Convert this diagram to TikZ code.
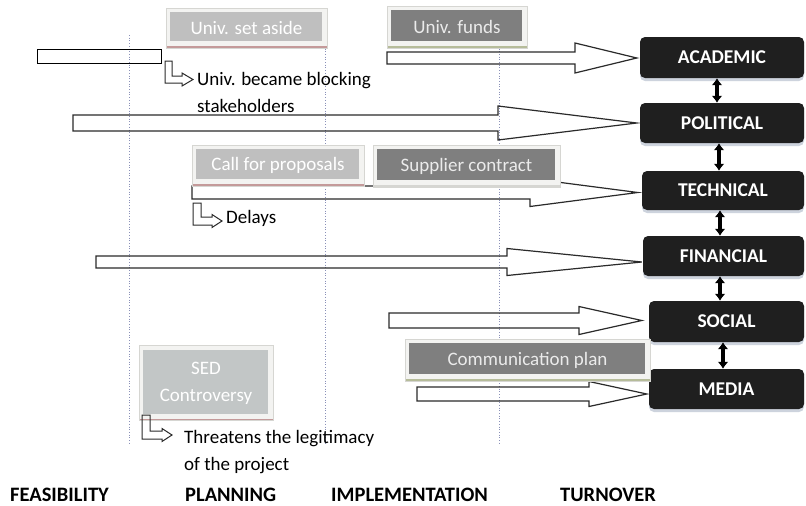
\documentclass[tikz,border=0pt]{standalone}
\usepackage{fontspec}
\setmainfont{Carlito}
\usetikzlibrary{calc,arrows.meta,shadows}
\definecolor{boxblack}{HTML}{1F1F1F}
\definecolor{rimblue}{HTML}{CDD3DD}
\definecolor{lightfill}{HTML}{BFBFBF}
\definecolor{sedfill}{HTML}{C2C6C6}
\definecolor{darkfill}{HTML}{7F7F7F}
\definecolor{framefill}{HTML}{F3F3F1}
\definecolor{framedraw}{HTML}{D6D6D2}
\definecolor{pinkline}{HTML}{C49A9A}
\definecolor{greenline}{HTML}{B6BC9A}
\definecolor{dotblue}{HTML}{8A90B8}
\definecolor{arrowgray}{HTML}{2A2A2A}
\tikzset{
  blackbox/.style={rounded corners=5pt, fill=boxblack, text=white, inner sep=0pt,
    font=\fontsize{19.5}{21}\selectfont\bfseries,
    drop shadow={shadow xshift=0pt, shadow yshift=-3pt, fill=rimblue, opacity=1}},
  grayframe/.style n args={3}{fill=framefill, draw=framedraw, line width=0.6pt, inner sep=0pt,
    text=#2, font=\fontsize{19}{27}\selectfont, align=center,
    path picture={
      \fill[#1] ([shift={(4pt,-4pt)}]path picture bounding box.north west)
        rectangle ([shift={(-5pt,7pt)}]path picture bounding box.south east);
      \fill[#3] ([shift={(0pt,0pt)}]path picture bounding box.south west)
        rectangle ([shift={(0pt,2pt)}]path picture bounding box.south east);
    }},
  blockarrow/.style={draw=arrowgray, line width=1.2pt, line join=miter},
  bentshape/.style={draw=arrowgray, line width=1pt, line join=miter},
  dblarrow/.style={line width=3.4pt, {Latex[length=7pt,width=11pt]}-{Latex[length=7pt,width=11pt]}},
  phase/.style={font=\fontsize{20.5}{22}\selectfont\bfseries, anchor=base west, inner sep=0pt},
  note/.style={font=\fontsize{19}{27}\selectfont, anchor=base west, align=left, inner sep=0pt},
  stageline/.style={draw=dotblue, dotted, line width=0.7pt},
}
\newcommand\blkarrow[6]{%
  \draw[blockarrow] let \p1=(#1), \p2=(#2.west) in
    (\x1,\y1+#4pt) -- (#3pt,\y1+#4pt) -- (#3pt,\y1+#5pt) -- (\x2+#6pt,\y1)
    -- (#3pt,\y1-#5pt) -- (#3pt,\y1-#4pt) -- (\x1,\y1-#4pt) -- cycle;}
\newcommand\bentarrow[6]{%
  \draw[bentshape] (#1,#2) -- ({#1+#3},#2) -- ({#1+#3},{#2+#4-#3})
    -- ({#1+#5},{#2+#4-#3}) -- ({#1+#5},{#2+#4-#3/2-6.5}) -- ({#1+#5+#6},{#2+#4-#3/2})
    -- ({#1+#5},{#2+#4-#3/2+6.5}) -- ({#1+#5},{#2+#4}) -- (#1,{#2+#4}) -- cycle;}
\begin{document}
\begin{tikzpicture}[x=1pt,y=-1pt]
\useasboundingbox (0,0) rectangle (806,506);
\fill[white] (0,0) rectangle (806,506);

% phase separators
\draw[stageline] (129,35) -- (129,445);
\draw[stageline] (325,35) -- (325,445);
\draw[stageline] (499,35) -- (499,445);

% arrow tails
\coordinate (tacad) at (387,58);
\coordinate (tpol) at (73,123);
\coordinate (ttech) at (192,192.5);
\coordinate (tfin) at (96,262);
\coordinate (tsoc) at (389,320.5);
\coordinate (tmed) at (417,394);

% category boxes
\node[blackbox, minimum width=164pt, minimum height=41pt] (academic) at (722,57.5) {ACADEMIC};
\node[blackbox, minimum width=164pt, minimum height=40pt] (political) at (722,123) {POLITICAL};
\node[blackbox, minimum width=162pt, minimum height=39pt] (technical) at (723,190.5) {TECHNICAL};
\node[blackbox, minimum width=161pt, minimum height=40pt] (financial) at (723.5,256) {FINANCIAL};
\node[blackbox, minimum width=155pt, minimum height=41pt] (social) at (726.5,321.5) {SOCIAL};
\node[blackbox, minimum width=155pt, minimum height=40pt] (media) at (726.5,389) {MEDIA};

% links between categories
\draw[dblarrow] ([xshift=-5pt]academic.south) -- ([xshift=-5pt]academic.south |- political.north);
\draw[dblarrow] ([xshift=-3pt]political.south) -- ([xshift=-3pt]political.south |- technical.north);
\draw[dblarrow] ([xshift=-3pt]technical.south) -- ([xshift=-3pt]technical.south |- financial.north);
\draw[dblarrow] ([xshift=-3.5pt]financial.south) -- ([xshift=-3.5pt]financial.south |- social.north);
\draw[dblarrow] ([xshift=-3.5pt]social.south) -- ([xshift=-3.5pt]social.south |- media.north);

% block arrows
\blkarrow{tacad}{academic}{575}{6}{15}{-3}
\blkarrow{tpol}{political}{498}{8}{17}{-3}
\blkarrow{ttech}{technical}{530}{6.5}{14}{-4}
\blkarrow{tfin}{financial}{507}{6}{13.5}{-1}
\blkarrow{tsoc}{social}{579}{7.5}{14}{-7}
\blkarrow{tmed}{media}{589}{7}{12.5}{-2}

% start bar
\node[draw=black, line width=1.8pt, minimum width=124pt, minimum height=14pt, inner sep=0pt] (startbar) at (99.5,56.5) {};

% event boxes
\node[grayframe={lightfill}{white}{pinkline}, minimum width=161pt, minimum height=40pt] (setaside) at (246.5,28) {Univ. set aside};
\node[grayframe={darkfill}{white!92!black}{greenline}, minimum width=140pt, minimum height=42pt] (funds) at (457,27) {Univ. funds};
\node[grayframe={lightfill}{white}{pinkline}, minimum width=172pt, minimum height=41pt] (call) at (278,165.5) {Call for proposals};
\node[grayframe={darkfill}{white!92!black}{framedraw}, minimum width=187pt, minimum height=42pt] (supplier) at (466.5,166) {Supplier contract};
\node[grayframe={sedfill}{white}{pinkline}, minimum width=134pt, minimum height=75pt] (sed) at (206,383) {SED\\Controversy};
\node[grayframe={darkfill}{white!92!black}{greenline}, minimum width=245pt, minimum height=42pt] (comm) at (527.5,360) {Communication plan};

% consequences
\bentarrow{165}{61}{7}{22}{17}{11}
\node[note] (blocking) at (197,112) {Univ. became blocking\\stakeholders};
\bentarrow{193}{203}{8}{22}{19}{10}
\node[note] (delays) at (226,223) {Delays};
\bentarrow{142}{415}{8}{24}{20}{10}
\node[note] (threat) at (184,470) {Threatens the legitimacy\\of the project};

% phases
\node[phase] (feas) at (10,501) {FEASIBILITY};
\node[phase] (plan) at (185,501) {PLANNING};
\node[phase] (impl) at (331,501) {IMPLEMENTATION};
\node[phase] (turn) at (560,501) {TURNOVER};
\end{tikzpicture}
\end{document}
